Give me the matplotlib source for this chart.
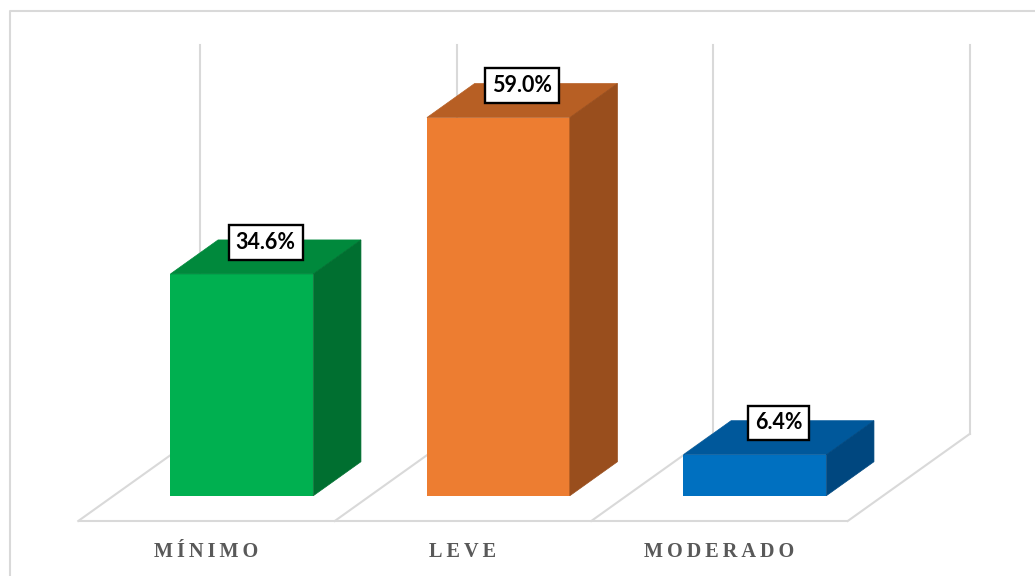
import numpy as np
import matplotlib.pyplot as plt
from matplotlib.patches import Polygon
from matplotlib.lines import Line2D

# data
categories = ["MÍNIMO", "LEVE", "MODERADO"]
values = [34.6, 59.0, 6.4]
front_colors = ["#00B050", "#ED7D31", "#0070C0"]
top_colors = ["#00893C", "#B75F24", "#00589B"]
side_colors = ["#006F30", "#994E1D", "#00477F"]

# oblique 3d projection (depth of the whole floor, in data units)
depth_dx, depth_dy = 0.476, 13.6
f_front, f_back = 0.29, 0.68   # where each bar sits along the depth axis
bar_w = 0.557
wall_top = 60.7
grid_c = "#D9D9D9"

fig = plt.figure(figsize=(10.35, 5.76), dpi=100)
ax = fig.add_axes([0, 0, 1, 1])
ax.set_xlim(-0.805, 3.23)
ax.set_ylim(-8.58, 81.28)
ax.axis("off")

n = len(categories)
x = np.arange(n)
edges = np.arange(n + 1) - 0.5

# floor + back wall grid
ax.plot([edges[0], edges[-1]], [0, 0], color=grid_c, lw=1.5, zorder=1, solid_capstyle="butt")
for e in edges:
    ax.plot([e, e + depth_dx], [0, depth_dy], color=grid_c, lw=1.5, zorder=1)
    ax.plot([e + depth_dx, e + depth_dx], [depth_dy, depth_dy + wall_top], color=grid_c, lw=1.5, zorder=1)

# bars: front face with ax.bar, top and side faces as polygons
dx = (f_back - f_front) * depth_dx
dy = (f_back - f_front) * depth_dy
x0 = x + f_front * depth_dx
y0 = f_front * depth_dy
ax.bar(x0, values, width=bar_w, bottom=y0, color=front_colors, zorder=3)
for xi, v, tc, sc in zip(x0, values, top_colors, side_colors):
    l, r, t = xi - bar_w / 2, xi + bar_w / 2, y0 + v
    ax.add_patch(Polygon([(l, t), (r, t), (r + dx, t + dy), (l + dx, t + dy)],
                         closed=True, facecolor=tc, edgecolor=tc, lw=0.5, zorder=3))
    ax.add_patch(Polygon([(r, y0), (r + dx, y0 + dy), (r + dx, t + dy), (r, t)],
                         closed=True, facecolor=sc, edgecolor=sc, lw=0.5, zorder=3))
    ax.text(xi + dx / 2, t + dy / 2 + 2.3, f"{v:.1f}%", ha="center", va="center",
            fontsize=15.5, fontweight="bold", family="Lato", color="black", zorder=5,
            bbox=dict(boxstyle="square,pad=0.32", facecolor="white", edgecolor="black", lw=1.7))

# category labels
for xi, c in zip(x, categories):
    ax.text(xi, -4.8, "\u2009".join(c), ha="center", va="center", fontsize=14.6,
            fontweight="bold", family=["Liberation Serif", "DejaVu Serif"], color="#595959")

# chart frame
fl = 10 / 1035
ft = 1 - 11 / 576
fig.add_artist(Line2D([fl, fl, 1], [0, ft, ft], transform=fig.transFigure, color=grid_c, lw=1.5))

fig.savefig("out.png", dpi=100)
